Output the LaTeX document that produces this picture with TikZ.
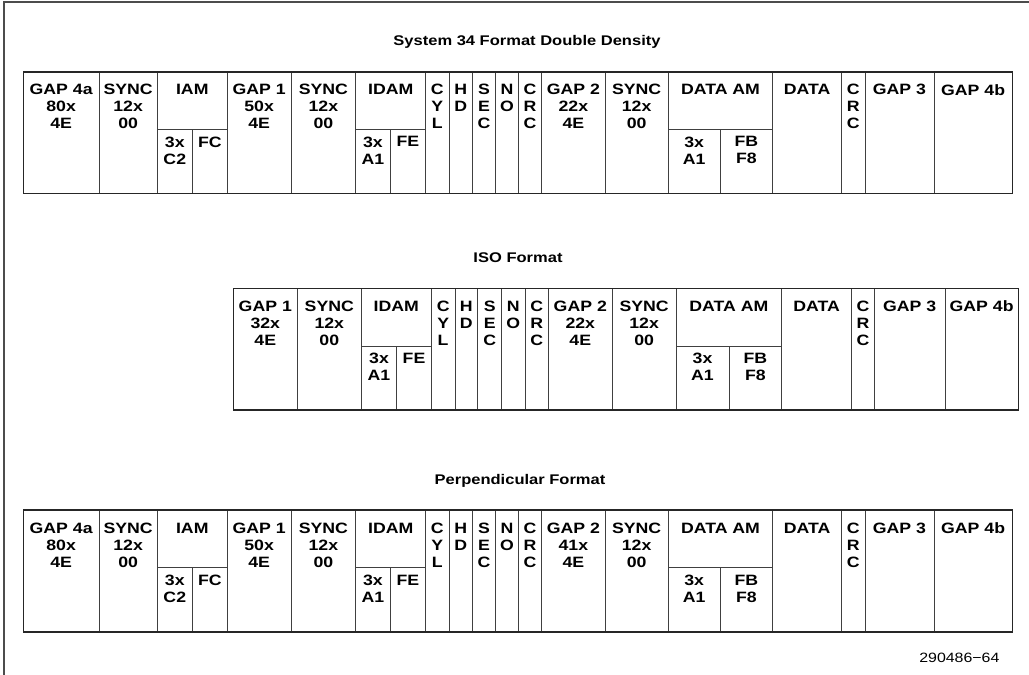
\documentclass[tikz,border=0pt]{standalone}
\usepackage{fontspec}
\setmainfont{Liberation Sans}[FakeStretch=1.18]
\usetikzlibrary{positioning}

\begin{document}
\begin{tikzpicture}[
  x=1pt, y=-1pt,
  node distance=0pt,
  cell/.style={draw=black!75, line width=0.9pt, inner sep=0pt, outer sep=0pt,
    minimum height=121.7pt},
  sub/.style={draw=black!75, line width=0.9pt, inner sep=0pt, outer sep=0pt,
    minimum height=64pt, anchor=south west},
  txt/.style={inner sep=0pt, align=center,
    font=\fontsize{15}{17}\selectfont\bfseries},
  title/.style={font=\fontsize{14}{16}\selectfont\bfseries},
  frame/.style={draw=black!85, line width=1.6pt}
]
\useasboundingbox (0,0) rectangle (1029,675);
\draw[line width=1.4pt, black!70] (4,675) -- (4,2) -- (1029,2);

% System 34 format, double density
\node[title] (s-title) at (527,42) {System 34 Format Double Density};
\node[cell, minimum width=75.7pt, anchor=north west] (s-gap4a) at (23.3,71.7) {};
\node[cell, minimum width=58.3pt, right=of s-gap4a] (s-sync1) {};
\node[cell, minimum width=70pt, right=of s-sync1] (s-iam) {};
\node[cell, minimum width=63.7pt, right=of s-iam] (s-gap1) {};
\node[cell, minimum width=64.7pt, right=of s-gap1] (s-sync2) {};
\node[cell, minimum width=70pt, right=of s-sync2] (s-idam) {};
\node[cell, minimum width=23.3pt, right=of s-idam] (s-cyl) {};
\node[cell, minimum width=23.3pt, right=of s-cyl] (s-hd) {};
\node[cell, minimum width=23.4pt, right=of s-hd] (s-sec) {};
\node[cell, minimum width=22.6pt, right=of s-sec] (s-no) {};
\node[cell, minimum width=23.4pt, right=of s-no] (s-crc1) {};
\node[cell, minimum width=63.3pt, right=of s-crc1] (s-gap2) {};
\node[cell, minimum width=63.3pt, right=of s-gap2] (s-sync3) {};
\node[cell, minimum width=104.4pt, right=of s-sync3] (s-dam) {};
\node[cell, minimum width=69pt, right=of s-dam] (s-data) {};
\node[cell, minimum width=23.3pt, right=of s-data] (s-crc2) {};
\node[cell, minimum width=69pt, right=of s-crc2] (s-gap3) {};
\node[cell, minimum width=78.3pt, right=of s-gap3] (s-gap4b) {};
\node[sub, minimum width=35pt] (s-iam1) at (s-iam.south west) {};
\node[sub, minimum width=35pt, right=of s-iam1] (s-iam2) {};
\node[sub, minimum width=34.3pt] (s-idam1) at (s-idam.south west) {};
\node[sub, minimum width=35.7pt, right=of s-idam1] (s-idam2) {};
\node[sub, minimum width=51.7pt] (s-dam1) at (s-dam.south west) {};
\node[sub, minimum width=52.7pt, right=of s-dam1] (s-dam2) {};
\draw[frame] (s-gap4a.north west) rectangle (s-gap4b.south east);
\node[txt, below=12.5pt of s-gap4a.north] (s-gap4a-t) {GAP 4a\\80x\\4E};
\node[txt, below=12.5pt of s-sync1.north] (s-sync1-t) {SYNC\\12x\\00};
\node[txt, below=12.5pt of s-iam.north] (s-iam-t) {IAM};
\node[txt, below=12.5pt of s-gap1.north] (s-gap1-t) {GAP 1\\50x\\4E};
\node[txt, below=12.5pt of s-sync2.north] (s-sync2-t) {SYNC\\12x\\00};
\node[txt, below=12.5pt of s-idam.north] (s-idam-t) {IDAM};
\node[txt, below=12.5pt of s-cyl.north] (s-cyl-t) {C\\Y\\L};
\node[txt, below=12.5pt of s-hd.north] (s-hd-t) {H\\D};
\node[txt, below=12.5pt of s-sec.north] (s-sec-t) {S\\E\\C};
\node[txt, below=12.5pt of s-no.north] (s-no-t) {N\\O};
\node[txt, below=12.5pt of s-crc1.north] (s-crc1-t) {C\\R\\C};
\node[txt, below=12.5pt of s-gap2.north] (s-gap2-t) {GAP 2\\22x\\4E};
\node[txt, below=12.5pt of s-sync3.north] (s-sync3-t) {SYNC\\12x\\00};
\node[txt, below=12.5pt of s-dam.north] (s-dam-t) {DATA AM};
\node[txt, below=12.5pt of s-data.north] (s-data-t) {DATA};
\node[txt, below=12.5pt of s-crc2.north] (s-crc2-t) {C\\R\\C};
\node[txt, below=12.5pt of s-gap3.north] (s-gap3-t) {GAP 3};
\node[txt, below=12.5pt of s-gap4b.north] (s-gap4b-t) {GAP 4b};
\node[txt, below=7pt of s-iam1.north] (s-iam1-t) {3x\\C2};
\node[txt, below=7pt of s-iam2.north] (s-iam2-t) {FC};
\node[txt, below=7pt of s-idam1.north] (s-idam1-t) {3x\\A1};
\node[txt, below=7pt of s-idam2.north] (s-idam2-t) {FE};
\node[txt, below=7pt of s-dam1.north] (s-dam1-t) {3x\\A1};
\node[txt, below=7pt of s-dam2.north] (s-dam2-t) {FB\\F8};

% ISO format
\node[title] (i-title) at (518,258) {ISO Format};
\node[cell, minimum width=64pt, anchor=north west] (i-gap1) at (233.3,288.3) {};
\node[cell, minimum width=64pt, right=of i-gap1] (i-sync1) {};
\node[cell, minimum width=70pt, right=of i-sync1] (i-idam) {};
\node[cell, minimum width=23.7pt, right=of i-idam] (i-cyl) {};
\node[cell, minimum width=22.7pt, right=of i-cyl] (i-hd) {};
\node[cell, minimum width=24pt, right=of i-hd] (i-sec) {};
\node[cell, minimum width=23.3pt, right=of i-sec] (i-no) {};
\node[cell, minimum width=23.3pt, right=of i-no] (i-crc1) {};
\node[cell, minimum width=64pt, right=of i-crc1] (i-gap2) {};
\node[cell, minimum width=63.7pt, right=of i-gap2] (i-sync2) {};
\node[cell, minimum width=105.7pt, right=of i-sync2] (i-dam) {};
\node[cell, minimum width=70pt, right=of i-dam] (i-data) {};
\node[cell, minimum width=22.6pt, right=of i-data] (i-crc2) {};
\node[cell, minimum width=70.7pt, right=of i-crc2] (i-gap3) {};
\node[cell, minimum width=73.3pt, right=of i-gap3] (i-gap4b) {};
\node[sub, minimum width=35.4pt] (i-idam1) at (i-idam.south west) {};
\node[sub, minimum width=34.6pt, right=of i-idam1] (i-idam2) {};
\node[sub, minimum width=53pt] (i-dam1) at (i-dam.south west) {};
\node[sub, minimum width=52.7pt, right=of i-dam1] (i-dam2) {};
\draw[frame] (i-gap1.north west) rectangle (i-gap4b.south east);
\node[txt, below=12.5pt of i-gap1.north] (i-gap1-t) {GAP 1\\32x\\4E};
\node[txt, below=12.5pt of i-sync1.north] (i-sync1-t) {SYNC\\12x\\00};
\node[txt, below=12.5pt of i-idam.north] (i-idam-t) {IDAM};
\node[txt, below=12.5pt of i-cyl.north] (i-cyl-t) {C\\Y\\L};
\node[txt, below=12.5pt of i-hd.north] (i-hd-t) {H\\D};
\node[txt, below=12.5pt of i-sec.north] (i-sec-t) {S\\E\\C};
\node[txt, below=12.5pt of i-no.north] (i-no-t) {N\\O};
\node[txt, below=12.5pt of i-crc1.north] (i-crc1-t) {C\\R\\C};
\node[txt, below=12.5pt of i-gap2.north] (i-gap2-t) {GAP 2\\22x\\4E};
\node[txt, below=12.5pt of i-sync2.north] (i-sync2-t) {SYNC\\12x\\00};
\node[txt, below=12.5pt of i-dam.north] (i-dam-t) {DATA AM};
\node[txt, below=12.5pt of i-data.north] (i-data-t) {DATA};
\node[txt, below=12.5pt of i-crc2.north] (i-crc2-t) {C\\R\\C};
\node[txt, below=12.5pt of i-gap3.north] (i-gap3-t) {GAP 3};
\node[txt, below=12.5pt of i-gap4b.north] (i-gap4b-t) {GAP 4b};
\node[txt, below=7pt of i-idam1.north] (i-idam1-t) {3x\\A1};
\node[txt, below=7pt of i-idam2.north] (i-idam2-t) {FE};
\node[txt, below=7pt of i-dam1.north] (i-dam1-t) {3x\\A1};
\node[txt, below=7pt of i-dam2.north] (i-dam2-t) {FB\\F8};

% perpendicular format
\node[title] (p-title) at (520,481) {Perpendicular Format};
\node[cell, minimum width=75.7pt, anchor=north west] (p-gap4a) at (23.3,510) {};
\node[cell, minimum width=58.3pt, right=of p-gap4a] (p-sync1) {};
\node[cell, minimum width=70pt, right=of p-sync1] (p-iam) {};
\node[cell, minimum width=63.7pt, right=of p-iam] (p-gap1) {};
\node[cell, minimum width=64.7pt, right=of p-gap1] (p-sync2) {};
\node[cell, minimum width=70pt, right=of p-sync2] (p-idam) {};
\node[cell, minimum width=23.3pt, right=of p-idam] (p-cyl) {};
\node[cell, minimum width=23.3pt, right=of p-cyl] (p-hd) {};
\node[cell, minimum width=23.4pt, right=of p-hd] (p-sec) {};
\node[cell, minimum width=22.6pt, right=of p-sec] (p-no) {};
\node[cell, minimum width=23.4pt, right=of p-no] (p-crc1) {};
\node[cell, minimum width=63.3pt, right=of p-crc1] (p-gap2) {};
\node[cell, minimum width=63.3pt, right=of p-gap2] (p-sync3) {};
\node[cell, minimum width=104.4pt, right=of p-sync3] (p-dam) {};
\node[cell, minimum width=69pt, right=of p-dam] (p-data) {};
\node[cell, minimum width=23.3pt, right=of p-data] (p-crc2) {};
\node[cell, minimum width=69pt, right=of p-crc2] (p-gap3) {};
\node[cell, minimum width=78.3pt, right=of p-gap3] (p-gap4b) {};
\node[sub, minimum width=35pt] (p-iam1) at (p-iam.south west) {};
\node[sub, minimum width=35pt, right=of p-iam1] (p-iam2) {};
\node[sub, minimum width=34.3pt] (p-idam1) at (p-idam.south west) {};
\node[sub, minimum width=35.7pt, right=of p-idam1] (p-idam2) {};
\node[sub, minimum width=51.7pt] (p-dam1) at (p-dam.south west) {};
\node[sub, minimum width=52.7pt, right=of p-dam1] (p-dam2) {};
\draw[frame] (p-gap4a.north west) rectangle (p-gap4b.south east);
\node[txt, below=12.5pt of p-gap4a.north] (p-gap4a-t) {GAP 4a\\80x\\4E};
\node[txt, below=12.5pt of p-sync1.north] (p-sync1-t) {SYNC\\12x\\00};
\node[txt, below=12.5pt of p-iam.north] (p-iam-t) {IAM};
\node[txt, below=12.5pt of p-gap1.north] (p-gap1-t) {GAP 1\\50x\\4E};
\node[txt, below=12.5pt of p-sync2.north] (p-sync2-t) {SYNC\\12x\\00};
\node[txt, below=12.5pt of p-idam.north] (p-idam-t) {IDAM};
\node[txt, below=12.5pt of p-cyl.north] (p-cyl-t) {C\\Y\\L};
\node[txt, below=12.5pt of p-hd.north] (p-hd-t) {H\\D};
\node[txt, below=12.5pt of p-sec.north] (p-sec-t) {S\\E\\C};
\node[txt, below=12.5pt of p-no.north] (p-no-t) {N\\O};
\node[txt, below=12.5pt of p-crc1.north] (p-crc1-t) {C\\R\\C};
\node[txt, below=12.5pt of p-gap2.north] (p-gap2-t) {GAP 2\\41x\\4E};
\node[txt, below=12.5pt of p-sync3.north] (p-sync3-t) {SYNC\\12x\\00};
\node[txt, below=12.5pt of p-dam.north] (p-dam-t) {DATA AM};
\node[txt, below=12.5pt of p-data.north] (p-data-t) {DATA};
\node[txt, below=12.5pt of p-crc2.north] (p-crc2-t) {C\\R\\C};
\node[txt, below=12.5pt of p-gap3.north] (p-gap3-t) {GAP 3};
\node[txt, below=12.5pt of p-gap4b.north] (p-gap4b-t) {GAP 4b};
\node[txt, below=7pt of p-iam1.north] (p-iam1-t) {3x\\C2};
\node[txt, below=7pt of p-iam2.north] (p-iam2-t) {FC};
\node[txt, below=7pt of p-idam1.north] (p-idam1-t) {3x\\A1};
\node[txt, below=7pt of p-idam2.north] (p-idam2-t) {FE};
\node[txt, below=7pt of p-dam1.north] (p-dam1-t) {3x\\A1};
\node[txt, below=7pt of p-dam2.north] (p-dam2-t) {FB\\F8};

\node[anchor=east, font=\fontsize{13.5}{16}\selectfont] (fig-no) at (1003,658) {290486−64};
\end{tikzpicture}
\end{document}
